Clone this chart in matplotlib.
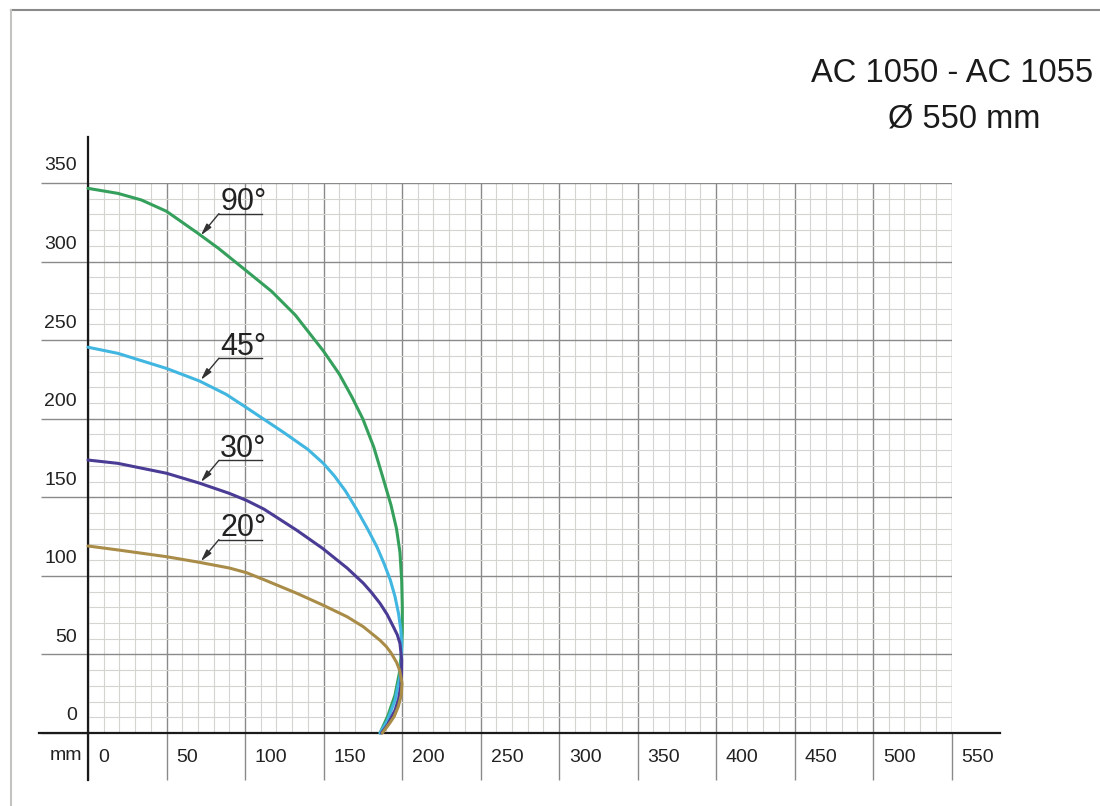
import matplotlib
matplotlib.use('Agg')
import matplotlib.pyplot as plt
from matplotlib.ticker import MultipleLocator
from matplotlib.lines import Line2D

plt.rcParams['font.family'] = ['Liberation Sans', 'DejaVu Sans']

# ---------------- data ----------------
x_ticks = [0, 50, 100, 150, 200, 250, 300, 350, 400, 450, 500, 550]
y_ticks = [0, 50, 100, 150, 200, 250, 300, 350]

angles = ['90°', '45°', '30°', '20°']
colors = ['#35a05c', '#40b6e0', '#4a3b94', '#a98c47']

x_90 = [0, 19, 34, 50, 70, 83, 101, 117, 132, 150, 160, 168, 175, 182, 188, 193, 196.5,
        198.7, 199.8, 200.2, 200.2, 199.7, 198.3, 195.5, 191, 186]
y_90 = [346.6, 343.4, 339.2, 332, 318, 308.5, 294, 281, 266, 243, 228.5, 214, 200, 182, 162, 145, 130,
        115, 97, 80, 65, 52, 38, 24, 11, 0]

x_45 = [0, 19, 50, 71, 88, 101, 113, 125, 140, 150, 157, 164, 171, 178, 184, 188.5, 192.5, 195.5,
        197.8, 199.2, 199.8, 199.7, 198.7, 195.6, 190.7, 186]
y_45 = [245.5, 241.6, 232, 224, 215.5, 207, 199, 191, 180.5, 171.5, 163.5, 154, 142.5, 130, 118.5, 108, 97.5, 87,
        76, 66, 57, 47, 36, 21, 8, 0]

x_30 = [0, 19, 50, 71, 90, 101, 112, 133, 149.4, 165, 175.4, 180.5, 186, 190.5, 194.5, 197, 198.7,
        199.8, 199.7, 199.2, 197.8, 195.6, 190.7, 187]
y_30 = [173.7, 171.6, 165.3, 159, 152.5, 148, 142.5, 129, 117.5, 105, 95.3, 89.5, 82.5, 75.5, 67.6, 62.5, 57,
        46.5, 38, 29.5, 21.5, 14.6, 5, 0]

x_20 = [0, 19, 50, 71, 90, 101, 112, 133, 149.4, 165, 175.4, 186, 190, 193, 196.5, 198.5, 200,
        199.5, 197.6, 195, 192, 187.5]
y_20 = [119, 116.5, 112.2, 108.6, 105, 102, 97.6, 88.9, 81.5, 74, 67.6, 59, 55, 51, 45, 40, 31.6,
        24, 16.8, 10.5, 6, 0]

curves_x = [x_90, x_45, x_30, x_20]
curves_y = [y_90, y_45, y_30, y_20]

# label pointer positions on the curves
pointer_x = [71.3, 71.3, 71.3, 71.3]
pointer_y = [316, 224, 159, 108.6]

title1 = 'AC 1050 - AC 1055'
title2 = 'Ø 550 mm'
unit_label = 'mm'

# ---------------- figure ----------------
W, H = 1100, 806
fig = plt.figure(figsize=(W / 100, H / 100), dpi=100)
ax = fig.add_axes([88 / W, (H - 733) / H, (951.5 - 88) / W, 550 / H])
ax.set_xlim(0, 550)
ax.set_ylim(0, 350)

for s in ax.spines.values():
    s.set_visible(False)

ax.xaxis.set_major_locator(MultipleLocator(50))
ax.xaxis.set_minor_locator(MultipleLocator(10))
ax.yaxis.set_major_locator(MultipleLocator(50))
ax.yaxis.set_minor_locator(MultipleLocator(10))
ax.grid(which='minor', color='#d4d4d0', lw=0.8)
ax.grid(which='major', color='#8a8a8a', lw=1.0)
ax.set_axisbelow(True)
ax.tick_params(which='major', direction='out', length=34, width=1.0,
               color='#8a8a8a', labelbottom=False, labelleft=False)
ax.tick_params(which='minor', length=0)

# axis lines
ax.axhline(0, xmin=-31 / 550, xmax=581 / 550, color='#1a1a1a', lw=1.6, clip_on=False, zorder=3)
ax.axvline(0, ymin=-30 / 350, ymax=379 / 350, color='#1a1a1a', lw=1.6, clip_on=False, zorder=3)

# tick labels
for v in x_ticks:
    ax.annotate(str(v), xy=(v, 0), xytext=(10, -24), textcoords='offset pixels',
                ha='left', va='center', fontsize=14, color='#222222', annotation_clip=False)
for v in y_ticks:
    ax.annotate(str(v), xy=(0, v), xytext=(-11, 17), textcoords='offset pixels',
                ha='right', va='center', fontsize=14, color='#222222', annotation_clip=False)
ax.annotate(unit_label, xy=(0, 0), xytext=(-6, -22), textcoords='offset pixels',
            ha='right', va='center', fontsize=14, color='#222222', annotation_clip=False)

# curves
for xs, ys, c in zip(curves_x, curves_y, colors):
    ax.plot(xs, ys, color=c, lw=2.2, solid_joinstyle='round', solid_capstyle='round',
            antialiased=True, clip_on=False, zorder=4)

# angle labels with leader lines
for txt, px, py in zip(angles, pointer_x, pointer_y):
    uy = py + 14.5
    ux0, ux1 = px + 12.1, px + 39.5
    ax.plot([ux0, ux1], [uy, uy], color='#333333', lw=1.0, zorder=5)
    ax.annotate('', xy=(px, py), xytext=(ux0, uy),
                arrowprops=dict(arrowstyle='-|>,head_length=0.7,head_width=0.18',
                                color='#333333', lw=1.0, shrinkA=0, shrinkB=1),
                zorder=5)
    ax.text(ux0 + 0.8, uy + 2.0, txt, fontsize=22, ha='left', va='baseline',
            color='#222222', zorder=5)

# titles
fig.text(1093 / W, 1 - 82 / H, title1, ha='right', va='baseline', fontsize=23.5, color='#1a1a1a')
fig.text(964 / W, 1 - 127 / H, title2, ha='center', va='baseline', fontsize=23.5, color='#1a1a1a')

# outer frame
fig.add_artist(Line2D([11 / W, 1], [1 - 10 / H, 1 - 10 / H], transform=fig.transFigure,
                      color='#8a8a8a', lw=1.5))
fig.add_artist(Line2D([11 / W, 11 / W], [0, 1 - 10 / H], transform=fig.transFigure,
                      color='#c4c4c0', lw=1.5))

fig.savefig('out.png', dpi=100)
